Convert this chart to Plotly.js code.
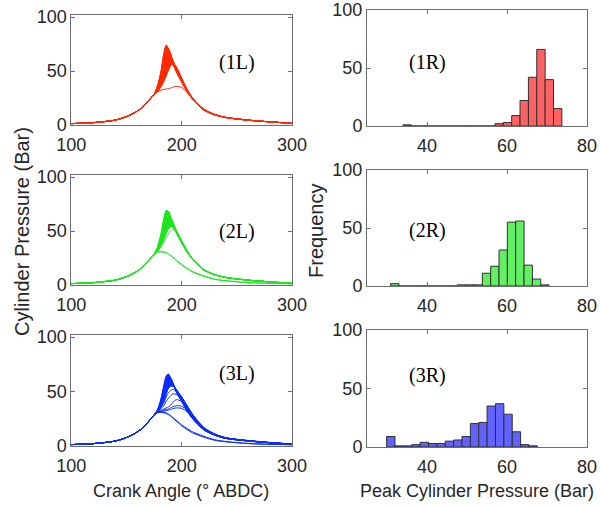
<!DOCTYPE html>
<html>
<head>
<meta charset="utf-8">
<script src="https://cdn.plot.ly/plotly-3.0.1.min.js"></script>
<style>html,body{margin:0;padding:0;background:#fff;}#chart{width:600px;height:506px;}</style>
</head>
<body>
<div id="chart"></div>
<script>
// ---------- data ----------
const angle = [100,120,140,150,160,165,170,175,178,181,184,186,188,190,192,195,200,205,210,220,230,240,260,280,300];
// common compression part (100..175 deg)
const compression = [1.3,2.2,4.6,7.8,13,17,22.5,28.5];
// values from 178 to 300 deg for each cycle
const cycles1L = [
  [36,48,67,74,70,63,57,50,40,31,24,14,9.5,7,4.5,2.9,1.6],
  [35,47,65,73,71,64,57.5,50,40,31,24,14,9.5,7,4.5,2.9,1.6],
  [34,45,62,71,71,65,58,50,40,31,24,14,9.5,7,4.5,2.9,1.6],
  [33.5,43.5,59.5,68.5,70,66,58.5,50.5,40.5,31,24,14,9.5,7,4.5,2.9,1.6],
  [33,42,57,66,69,66,59,51,40.5,31,24,14,9.5,7,4.5,2.9,1.6],
  [32.5,41,54.5,63,67,65,59.5,51.5,41,31.2,24,14,9.5,7,4.5,2.9,1.6],
  [32,40,52,60,65,64,60,52,41,31.5,24,14,9.5,7,4.5,2.9,1.6],
  [31.5,38,48,55,60,62,60,53,42,32,24.5,14.5,9.8,7,4.6,2.9,1.6],
  [31,36,44,50,55,58,58,54,43,32.5,24.5,14.5,9.8,7,4.6,2.9,1.6],
  [31,35,41,46,51,55,56.5,54,43.5,33,25,14.5,9.8,7,4.6,2.9,1.6],
  [30.5,32,33,33.3,33.7,34.2,35,35.8,34.8,30,24.5,15,9.7,7,4.5,2.9,1.6]
];
const cycles2L = [
  [35,46,62,69,68,62,56,49,39,30.5,23.5,14,9.5,7,4.5,2.9,1.6],
  [34.5,45,60.5,68,68,62.5,56.5,49,39.2,30.5,23.5,14,9.5,7,4.5,2.9,1.6],
  [34,44,59,67,68,63,57,49.5,39.5,30.5,23.5,14,9.5,7,4.5,2.9,1.6],
  [33.5,43,57,65,67,63,57.5,50,39.8,30.8,23.8,14,9.5,7,4.5,2.9,1.6],
  [33,42,55,63,66,63,58,50,40,31,24,14,9.5,7,4.5,2.9,1.6],
  [32.5,41,53,61,64.5,62.5,58,50.5,40.2,31,24,14.1,9.6,7,4.5,2.9,1.6],
  [32,40,51,59,63,62,58,51,40.5,31,24,14.2,9.6,7,4.5,2.9,1.6],
  [31.5,38,47,54,59,60,57,51,41,31.5,24,14.2,9.6,7,4.5,2.9,1.6],
  [31,36,43,48,52,54,53.5,50,41,31.5,24,14.3,9.7,7,4.6,2.9,1.6],
  [31,35,40,44,47.5,50,51.5,49,41,32,24.5,14.3,9.7,7,4.6,2.9,1.6],
  [30.7,31,30.6,30,29,27.5,25.8,23.2,19,15.5,12.5,8.5,5.5,4,2.3,1.6,1.2],
  [30.5,30.8,30.4,29.8,28.8,27.3,25.6,23,18.6,15,12,8.1,5.2,3.8,2.2,1.5,1.2]
];
const cycles3L = [
  [33,42,56,64,66,62,57,50,41,32,25,15,10,7,4.6,3,1.7],
  [32.8,41,54,62,65,62.5,57.5,50.5,41.5,32.5,25.2,15,10,7,4.6,3,1.7],
  [32.5,40,52,60,64,63,58,51,42,33,25.5,15,10,7,4.6,3,1.7],
  [32.2,39,50,58,62.5,62,58,51.5,42.5,33.5,25.8,15.2,10.1,7.1,4.7,3,1.7],
  [32,38,48,56,61,61,58,52,43,34,26,15.5,10.2,7.2,4.7,3,1.7],
  [31.5,37,45,52,57,58,57,52,44,35,27,16,10.5,7.3,4.8,3.1,1.7],
  [31,36,42,48,53,55,55,52,45,36,28,16.5,10.8,7.5,4.9,3.1,1.7],
  [31,35,40,45,49,51,52,50,45,37,29,17,11,7.6,5,3.2,1.8],
  [31,34,37.5,41,44,46,48,47.5,44,37,29,17,11,7.6,5,3.2,1.8],
  [30.8,32.5,34,35,36,37.5,40,42.5,41,35.5,28.5,17,11,7.6,5,3.2,1.8],
  [30.8,32,33,33.5,34,35,36,37,36.5,33,27,16.5,10.8,7.5,4.9,3.1,1.7],
  [30.7,31.5,32,32.5,33,33.5,34.3,35,34.5,31.5,26,16,10.5,7.3,4.8,3.1,1.7],
  [30.7,31.2,31,30.4,29.5,28,26.3,23.7,19.5,16,13,9,5.8,4.2,2.4,1.6,1.2],
  [30.5,30.8,30.4,29.8,28.8,27.3,25.6,23,18.6,15,12,8.1,5.2,3.8,2.2,1.5,1.2]
];
// which cycles bound the dense band of each panel (top cycle, bottom cycle)
const band1L = [0, 9];
const band2L = [0, 8];
const band3L = [0, 6];

// histograms: bin centres and counts
const bins1R = [35.05,37.14,39.23,41.32,43.41,45.50,47.59,49.68,51.77,53.86,55.95,58.04,60.13,62.22,64.31,66.40,68.49,70.58,72.67];
const counts1R = [1,0,0,0,0,0,0,0,0,0,0,2,3,9,22,42,66,40,15];
const bins2R = [31.94,34.03,36.11,38.20,40.28,42.37,44.45,46.54,48.62,50.71,52.79,54.88,56.96,59.05,61.13,63.22,65.30,67.39,69.47];
const counts2R = [2,0,0,0,0,0,0,0,1,1,1,11,17,31,55,56,18,6,1];
const bins3R = [30.95,33.04,35.13,37.23,39.32,41.42,43.51,45.60,47.70,49.79,51.89,53.98,56.07,58.17,60.26,62.36,64.45,66.54];
const counts3R = [9,1,1,2,4,3,3,5,6,9,20,21,35,37,28,13,2,1];

const panelLabelsL = ['(1L)','(2L)','(3L)'];
const panelLabelsR = ['(1R)','(2R)','(3R)'];
const xTicksL = [100,200,300];
const xTicksR = [40,60,80];
const yTicks = [0,50,100];

// ---------- traces ----------
const traces = [];
function addCycles(cycles, band, color, xa, ya) {
  const lower = compression.concat(cycles[band[1]]);
  const upper = compression.concat(cycles[band[0]]);
  traces.push({x: angle, y: lower, type: 'scatter', mode: 'lines',
    line: {color: color, width: 1, shape: 'spline', smoothing: 0.8},
    xaxis: xa, yaxis: ya, hoverinfo: 'skip', showlegend: false});
  traces.push({x: angle, y: upper, type: 'scatter', mode: 'lines', fill: 'tonexty', fillcolor: color,
    line: {color: color, width: 1, shape: 'spline', smoothing: 0.8},
    xaxis: xa, yaxis: ya, hoverinfo: 'skip', showlegend: false});
  cycles.forEach(c => {
    traces.push({
      x: angle, y: compression.concat(c), type: 'scatter', mode: 'lines',
      line: {color: color, width: 1, shape: 'spline', smoothing: 0.8},
      xaxis: xa, yaxis: ya, hoverinfo: 'skip', showlegend: false
    });
  });
}
addCycles(cycles1L, band1L, '#ff2a00', 'x', 'y');
addCycles(cycles2L, band2L, '#1ee61e', 'x2', 'y2');
addCycles(cycles3L, band3L, '#0a2dff', 'x3', 'y3');

function addHist(bins, counts, color, xa, ya) {
  traces.push({
    x: bins, y: counts, type: 'bar', width: 2.09,
    marker: {color: color, line: {color: '#303030', width: 1}},
    xaxis: xa, yaxis: ya, hoverinfo: 'skip', showlegend: false
  });
}
addHist(bins1R, counts1R, '#ff6262', 'x4', 'y4');
addHist(bins2R, counts2R, '#62f062', 'x5', 'y5');
addHist(bins3R, counts3R, '#6262ff', 'x6', 'y6');

// ---------- layout ----------
const W = 600, H = 506;
const tickFont = {family: 'Liberation Sans, Arial, sans-serif', size: 18, color: '#262626'};
function xax(domain, range, ticks, anchor) {
  return {domain: domain, range: range, tickvals: ticks, anchor: anchor,
    showline: true, linecolor: '#6e6e6e', linewidth: 1, mirror: 'allticks',
    ticks: 'inside', ticklen: 4, tickcolor: '#6e6e6e', showgrid: false, zeroline: false,
    tickfont: tickFont, ticklabelstandoff: 3, fixedrange: true};
}
function yax(domain, range, anchor) {
  return {domain: domain, range: range, tickvals: yTicks, anchor: anchor,
    showline: true, linecolor: '#6e6e6e', linewidth: 1, mirror: 'allticks',
    ticks: 'inside', ticklen: 4, tickcolor: '#6e6e6e', showgrid: false, zeroline: false,
    tickfont: tickFont, fixedrange: true};
}
const xL = [71.3/W, 292/W], xR = [367/W, 587/W];
function ydom(top, bottom) { return [1 - bottom/H, 1 - top/H]; }

const serif = {family: 'Liberation Serif, Times New Roman, serif', size: 20, color: '#000'};
const sans = 'Liberation Sans, Arial, sans-serif';
const layout = {
  width: W, height: H, margin: {l: 0, r: 0, t: 0, b: 0},
  paper_bgcolor: '#fff', plot_bgcolor: '#fff', showlegend: false, bargap: 0,
  xaxis: xax(xL, [100,300], xTicksL, 'y'),
  yaxis: yax(ydom(15,125), [0,102], 'x'),
  xaxis2: xax(xL, [100,300], xTicksL, 'y2'),
  yaxis2: yax(ydom(175,285), [0,102], 'x2'),
  xaxis3: xax(xL, [100,300], xTicksL, 'y3'),
  yaxis3: yax(ydom(335,446), [0,102], 'x3'),
  xaxis4: xax(xR, [25,80], xTicksR, 'y4'),
  yaxis4: yax(ydom(10,126), [0,100], 'x4'),
  xaxis5: xax(xR, [25,80], xTicksR, 'y5'),
  yaxis5: yax(ydom(170,286), [0,100], 'x5'),
  xaxis6: xax(xR, [25,80], xTicksR, 'y6'),
  yaxis6: yax(ydom(330,447), [0,100], 'x6'),
  annotations: [
    {text: panelLabelsL[0], x: 250, y: 58, xref: 'x', yref: 'y', showarrow: false, font: serif},
    {text: panelLabelsL[1], x: 250, y: 50, xref: 'x2', yref: 'y2', showarrow: false, font: serif},
    {text: panelLabelsL[2], x: 250, y: 66.5, xref: 'x3', yref: 'y3', showarrow: false, font: serif},
    {text: panelLabelsR[0], x: 40.1, y: 55, xref: 'x4', yref: 'y4', showarrow: false, font: serif},
    {text: panelLabelsR[1], x: 40, y: 48, xref: 'x5', yref: 'y5', showarrow: false, font: serif},
    {text: panelLabelsR[2], x: 40, y: 61, xref: 'x6', yref: 'y6', showarrow: false, font: serif},
    {text: 'Cylinder Pressure (Bar)', x: 22/W, y: 1 - 232/H, xref: 'paper', yref: 'paper',
     showarrow: false, textangle: -90, xanchor: 'center', yanchor: 'middle',
     font: {family: sans, size: 20, color: '#262626'}},
    {text: 'Frequency', x: 316/W, y: 1 - 230/H, xref: 'paper', yref: 'paper',
     showarrow: false, textangle: -90, xanchor: 'center', yanchor: 'middle',
     font: {family: sans, size: 20, color: '#262626'}},
    {text: 'Crank Angle (° ABDC)', x: 181/W, y: 1 - 491/H, xref: 'paper', yref: 'paper',
     showarrow: false, xanchor: 'center', yanchor: 'middle',
     font: {family: sans, size: 18, color: '#262626'}},
    {text: 'Peak Cylinder Pressure (Bar)', x: 477/W, y: 1 - 491/H, xref: 'paper', yref: 'paper',
     showarrow: false, xanchor: 'center', yanchor: 'middle',
     font: {family: sans, size: 18, color: '#262626'}}
  ]
};

Plotly.newPlot('chart', traces, layout, {staticPlot: true, displayModeBar: false});
</script>
</body>
</html>
